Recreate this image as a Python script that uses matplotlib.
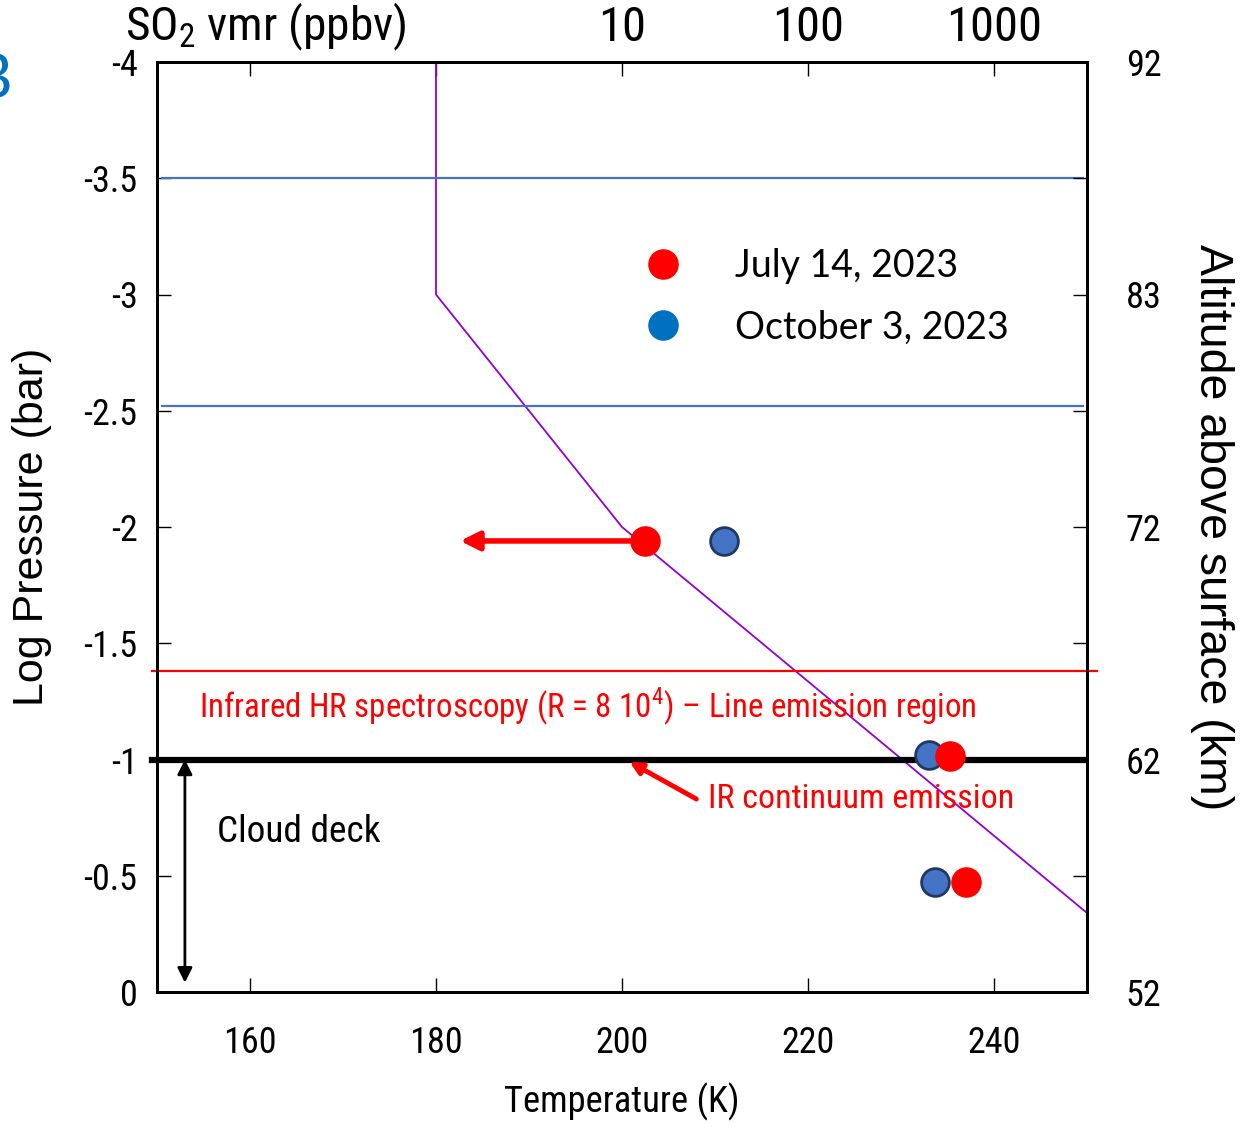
import matplotlib
matplotlib.use("Agg")
import matplotlib.pyplot as plt
from matplotlib import font_manager
from matplotlib.lines import Line2D

# pick a narrow font, if one is installed
fonts = font_manager.fontManager.ttflist
names = {f.name for f in fonts}
if "Liberation Sans Narrow" in names:
    NARROW, STRETCH, DIGIT_W = "Liberation Sans Narrow", "normal", 0.456
elif "Roboto Condensed" in names:
    NARROW, STRETCH, DIGIT_W = "Roboto Condensed", "normal", 0.465
elif any(f.name == "DejaVu Sans" and f.stretch == "condensed" for f in fonts):
    NARROW, STRETCH, DIGIT_W = "DejaVu Sans", "condensed", 0.573
else:
    NARROW, STRETCH, DIGIT_W = "Lato", "normal", 0.58
K = 0.465 / DIGIT_W           # size factor so widths stay the same
TICK_SIZE = 26.0 * K

CAL = ["Lato", "DejaVu Sans"]      # stands in for Calibri
ARIAL = ["Liberation Sans", "DejaVu Sans"]
NAR = dict(family=[NARROW, "DejaVu Sans"], stretch=STRETCH)
plt.rcParams["font.family"] = [NARROW, "DejaVu Sans"]
plt.rcParams["font.stretch"] = STRETCH
plt.rcParams["mathtext.fontset"] = "custom"
plt.rcParams["mathtext.rm"] = NARROW

# data
temp_july = [202.5, 235.3, 237.0]
logp_july = [-1.94, -1.015, -0.475]
temp_oct = [211.0, 233.0, 233.7]
logp_oct = [-1.94, -1.02, -0.475]

so2_vmr = [1, 1, 10, 3162]
so2_logp = [-4.0, -3.0, -2.0, -0.34]

y_ticks = [-4, -3.5, -3, -2.5, -2, -1.5, -1, -0.5, 0]
y_labels = ["-4", "-3.5", "-3", "-2.5", "-2", "-1.5", "-1", "-0.5", "0"]
t_ticks = [160, 180, 200, 220, 240]
vmr_ticks = [0.1, 1, 10, 100, 1000]
vmr_labels = ["", "", "10", "100", "1000"]
alt_labels = ["92", "", "83", "", "72", "", "62", "", "52"]

blue_levels = [-3.5, -2.52]
ir_top = -1.38
cloud_top = -1.0

RED = "#FF0000"
BLUE = "#4472C4"
LEG_BLUE = "#0070C0"

fig = plt.figure(figsize=(12.53, 11.27), dpi=100)
ax = fig.add_axes([157 / 1253, 1 - 992 / 1127, 930 / 1253, 930 / 1127])

ax_top = ax.twiny()
ax_top.set_xscale("log")
ax_top.set_xlim(10 ** -1.5, 10 ** 3.5)
ax_top.plot(so2_vmr, so2_logp, color="#9400D3", lw=1.3)
ax_top.set_xticks(vmr_ticks)
ax_top.set_xticklabels(vmr_labels, fontsize=35 * K, **NAR)
ax_top.xaxis.set_minor_locator(matplotlib.ticker.NullLocator())
ax_top.tick_params(axis="x", direction="in", length=10, width=1, pad=8)

# dots on top of the profile line
ax.set_zorder(ax_top.get_zorder() + 1)
ax.patch.set_visible(False)

ax.set_xlim(150, 250)
ax.set_ylim(0, -4)

for lv in blue_levels:
    ax.plot([150.5, 249.6], [lv, lv], color=BLUE, lw=1.6, clip_on=False)
ax.plot([149.5, 251.1], [ir_top, ir_top], color=RED, lw=1.6, clip_on=False)
ax.plot([149.5, 249.6], [cloud_top, cloud_top], color="black", lw=4.5, clip_on=False)

ax.annotate("", xy=(182.6, logp_july[0]), xytext=(temp_july[0], logp_july[0]),
            arrowprops=dict(arrowstyle="-|>", color=RED, lw=4, mutation_scale=28,
                            shrinkA=0, shrinkB=0))
ax.annotate("", xy=(153.0, -0.04), xytext=(153.0, -1.0),
            arrowprops=dict(arrowstyle="<|-|>", color="black", lw=2, mutation_scale=22,
                            shrinkA=0, shrinkB=0))
ax.annotate("", xy=(200.8, -0.99), xytext=(208.0, -0.83),
            arrowprops=dict(arrowstyle="-|>", color=RED, lw=3.5, mutation_scale=18,
                            shrinkA=0, shrinkB=0))

ax.plot(temp_july, logp_july, "o", ms=21, color=RED, mec=RED, zorder=5)
ax.plot(temp_oct, logp_oct, "o", ms=20, color=BLUE, mec="#1F3864", mew=2, zorder=4)

handles = [Line2D([], [], ls="", marker="o", ms=21, color=RED),
           Line2D([], [], ls="", marker="o", ms=21, color=LEG_BLUE)]
ax.legend(handles, ["July 14, 2023", "October 3, 2023"], loc="upper left",
          bbox_to_anchor=(0.468, 0.836), frameon=False, handletextpad=0.9,
          labelspacing=0.67, prop={"family": CAL, "size": 27})

ax.text(154.5, -1.23, "Infrared HR spectroscopy (R = 8 10$^{4}$) \u2013 Line emission region",
        color=RED, fontsize=23.7 * K, va="center", **NAR)
ax.text(209.3, -0.83, "IR continuum emission", color=RED, fontsize=24.5 * K,
        va="center", **NAR)
ax.text(156.5, -0.69, "Cloud deck", color="black", fontsize=26.9 * K, va="center", **NAR)

ax.set_xticks(t_ticks)
ax.set_xticklabels([str(t) for t in t_ticks], fontsize=TICK_SIZE, **NAR)
ax.set_yticks(y_ticks)
ax.set_yticklabels(y_labels, fontsize=TICK_SIZE, **NAR)
ax.tick_params(direction="in", length=10, width=1, pad=14)
ax.tick_params(axis="x", pad=24)

ax_r = ax.twinx()
ax_r.set_ylim(0, -4)
ax_r.set_yticks(y_ticks)
ax_r.set_yticklabels(alt_labels, fontsize=TICK_SIZE, **NAR)
ax_r.tick_params(direction="in", length=10, width=1, pad=28)

for a in (ax, ax_top, ax_r):
    for s in a.spines.values():
        s.set_linewidth(1.8)

fig.text(622 / 1253, 1 - 1102 / 1127, "Temperature (K)", fontsize=26.3 * K,
         ha="center", va="center", **NAR)
fig.text(32 / 1253, 1 - 527 / 1127, "Log Pressure (bar)", rotation=90,
         family=ARIAL, fontsize=31, ha="center", va="center")
fig.text(1212 / 1253, 1 - 527 / 1127, "Altitude above surface (km)", rotation=-90,
         family=ARIAL, fontsize=33.5, ha="center", va="center")
fig.text(125 / 1253, 1 - 27 / 1127, "SO$_{2}$ vmr (ppbv)", fontsize=34 * K,
         ha="left", va="center", **NAR)
fig.text(12 / 1253, 1 - 80 / 1127, "B", color=LEG_BLUE, fontsize=44, ha="right",
         va="center", family=CAL)

fig.savefig("out.png", dpi=100)
